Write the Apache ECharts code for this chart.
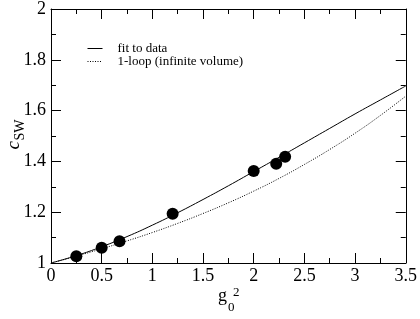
<!DOCTYPE html>
<html><head><meta charset="utf-8">
<script src="https://cdn.jsdelivr.net/npm/echarts@6/dist/echarts.min.js"></script>
<style>html,body{margin:0;padding:0;background:#fff}#c{width:420px;height:319px}</style>
</head><body><div id="c"></div>
<script>
// measured data points
const dataX = [0.25, 0.5, 0.676, 1.2, 2.0, 2.222, 2.31];
const dataY = [1.027, 1.06, 1.086, 1.194, 1.362, 1.391, 1.418];
// curves
const curveX = [0, 0.25, 0.5, 0.75, 1.0, 1.25, 1.5, 1.75, 2.0, 2.25, 2.5, 2.75, 3.0, 3.25, 3.5];
const fitY = [1.0, 1.029, 1.064, 1.104, 1.149, 1.198, 1.250, 1.304, 1.360, 1.416, 1.473, 1.530, 1.587, 1.642, 1.697];
const oneLoopY = [1.0, 1.027, 1.056, 1.087, 1.120, 1.156, 1.195, 1.237, 1.283, 1.333, 1.388, 1.447, 1.511, 1.581, 1.657];
const seriesNames = ['fit to data', '1-loop (infinite volume)'];

const FONT = 'Liberation Serif';
const chart = echarts.init(document.getElementById('c'));
const pair = (xs, ys) => xs.map((x, i) => [x, ys[i]]);
const axisCommon = {
  type: 'value',
  axisLine: {show: true, onZero: false, lineStyle: {color: '#000', width: 1}},
  axisTick: {show: true, inside: true, length: 10, lineStyle: {color: '#000'}},
  minorTick: {show: true, splitNumber: 2, length: 5, lineStyle: {color: '#000'}},
  splitLine: {show: false},
  minorSplitLine: {show: false}
};
chart.setOption({
  animation: false,
  grid: {left: 51, right: 12, top: 8, bottom: 56},
  xAxis: [
    Object.assign({}, axisCommon, {position: 'bottom', min: 0, max: 3.5, interval: 0.5,
      axisLabel: {show: true, margin: 4, color: '#000', fontFamily: FONT, fontSize: 18}}),
    Object.assign({}, axisCommon, {position: 'top', min: 0, max: 3.5, interval: 0.5,
      axisLabel: {show: false}})
  ],
  yAxis: [
    Object.assign({}, axisCommon, {position: 'left', min: 1, max: 2, interval: 0.2,
      axisLabel: {show: true, margin: 5, color: '#000', fontFamily: FONT, fontSize: 18}}),
    Object.assign({}, axisCommon, {position: 'right', min: 1, max: 2, interval: 0.2,
      axisLabel: {show: false}})
  ],
  legend: {
    data: seriesNames,
    orient: 'vertical', left: 82, top: 37, itemGap: 0,
    itemWidth: 15, itemHeight: 11,
    itemStyle: {opacity: 0},
    lineStyle: {width: 1},
    textStyle: {fontFamily: FONT, fontSize: 13, color: '#000', padding: [0, 0, 0, 10], lineHeight: 11}
  },
  series: [
    {name: seriesNames[0], type: 'line', data: pair(curveX, fitY), smooth: true, symbol: 'none',
      lineStyle: {color: '#000', width: 1}, itemStyle: {color: '#000'}, z: 2},
    {name: seriesNames[1], type: 'line', data: pair(curveX, oneLoopY), smooth: true, symbol: 'none',
      lineStyle: {color: '#000', width: 1, type: [1, 1.5]}, itemStyle: {color: '#000'}, z: 2},
    {name: 'data', type: 'scatter', data: pair(dataX, dataY), symbol: 'circle', symbolSize: 12,
      itemStyle: {color: '#000', opacity: 1}, z: 3}
  ],
  graphic: [
    {type: 'group', x: 0, y: 0, rotation: Math.PI / 2, children: [
      {type: 'text', x: -149.5, y: 13.5, style: {text: 'c', font: 'italic 19px ' + FONT, fill: '#000', verticalAlign: 'middle', align: 'left'}},
      {type: 'text', x: -140.5, y: 20, style: {text: 'SW', font: '14px ' + FONT, fill: '#000', verticalAlign: 'middle', align: 'left'}}
    ]},
    {type: 'text', x: 218, y: 296, style: {text: 'g', font: '18px ' + FONT, fill: '#000', verticalAlign: 'middle', align: 'left'}},
    {type: 'text', x: 228, y: 308, style: {text: '0', font: '13px ' + FONT, fill: '#000', verticalAlign: 'middle', align: 'left'}},
    {type: 'text', x: 233, y: 292.5, style: {text: '2', font: '13px ' + FONT, fill: '#000', verticalAlign: 'middle', align: 'left'}}
  ]
});
</script></body></html>
